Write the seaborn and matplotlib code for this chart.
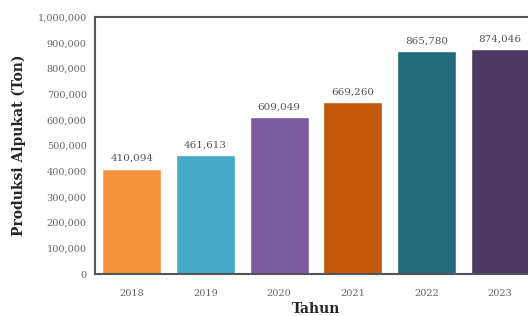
import matplotlib
matplotlib.use('Agg')
import matplotlib.pyplot as plt
import seaborn as sns
import pandas as pd
from matplotlib.ticker import FuncFormatter

years = ['2018', '2019', '2020', '2021', '2022', '2023']
produksi = [410094, 461613, 609049, 669260, 865780, 874046]
colors = ['#F5923E', '#45A9C7', '#7B5CA0', '#C2590A', '#226A7A', '#4A3A63']

df = pd.DataFrame({'Tahun': years, 'Produksi': produksi})

sns.set_style('white')
plt.rcParams['font.family'] = ['DejaVu Serif']

fig = plt.figure(figsize=(5.28, 3.16), dpi=100)
ax = fig.add_axes([95 / 528, 1 - 274 / 316, 442 / 528, 257 / 316])

sns.barplot(data=df, x='Tahun', y='Produksi', hue='Tahun', palette=colors,
            legend=False, width=0.8, saturation=1, ax=ax)

for c in ax.containers:
    ax.bar_label(c, labels=[f'{v:,.0f}' for v in c.datavalues], padding=4,
                 fontsize=7.5, color='#555555')

ax.set_ylim(0, 1000000)
ax.set_yticks(range(0, 1000001, 100000))
ax.yaxis.set_major_formatter(FuncFormatter(lambda v, p: f'{v:,.0f}'))
ax.tick_params(axis='both', length=0, labelsize=7, labelcolor='#666666')
ax.tick_params(axis='y', pad=6)
ax.tick_params(axis='x', pad=11)

for s in ax.spines.values():
    s.set_color('#555555')
    s.set_linewidth(1.5)

ax.set_xlabel('Tahun', fontsize=10, fontweight='bold', labelpad=3)
ax.set_ylabel('Produksi Alpukat (Ton)', fontsize=10, fontweight='bold', labelpad=8)

fig.savefig('out.png', dpi=100)
